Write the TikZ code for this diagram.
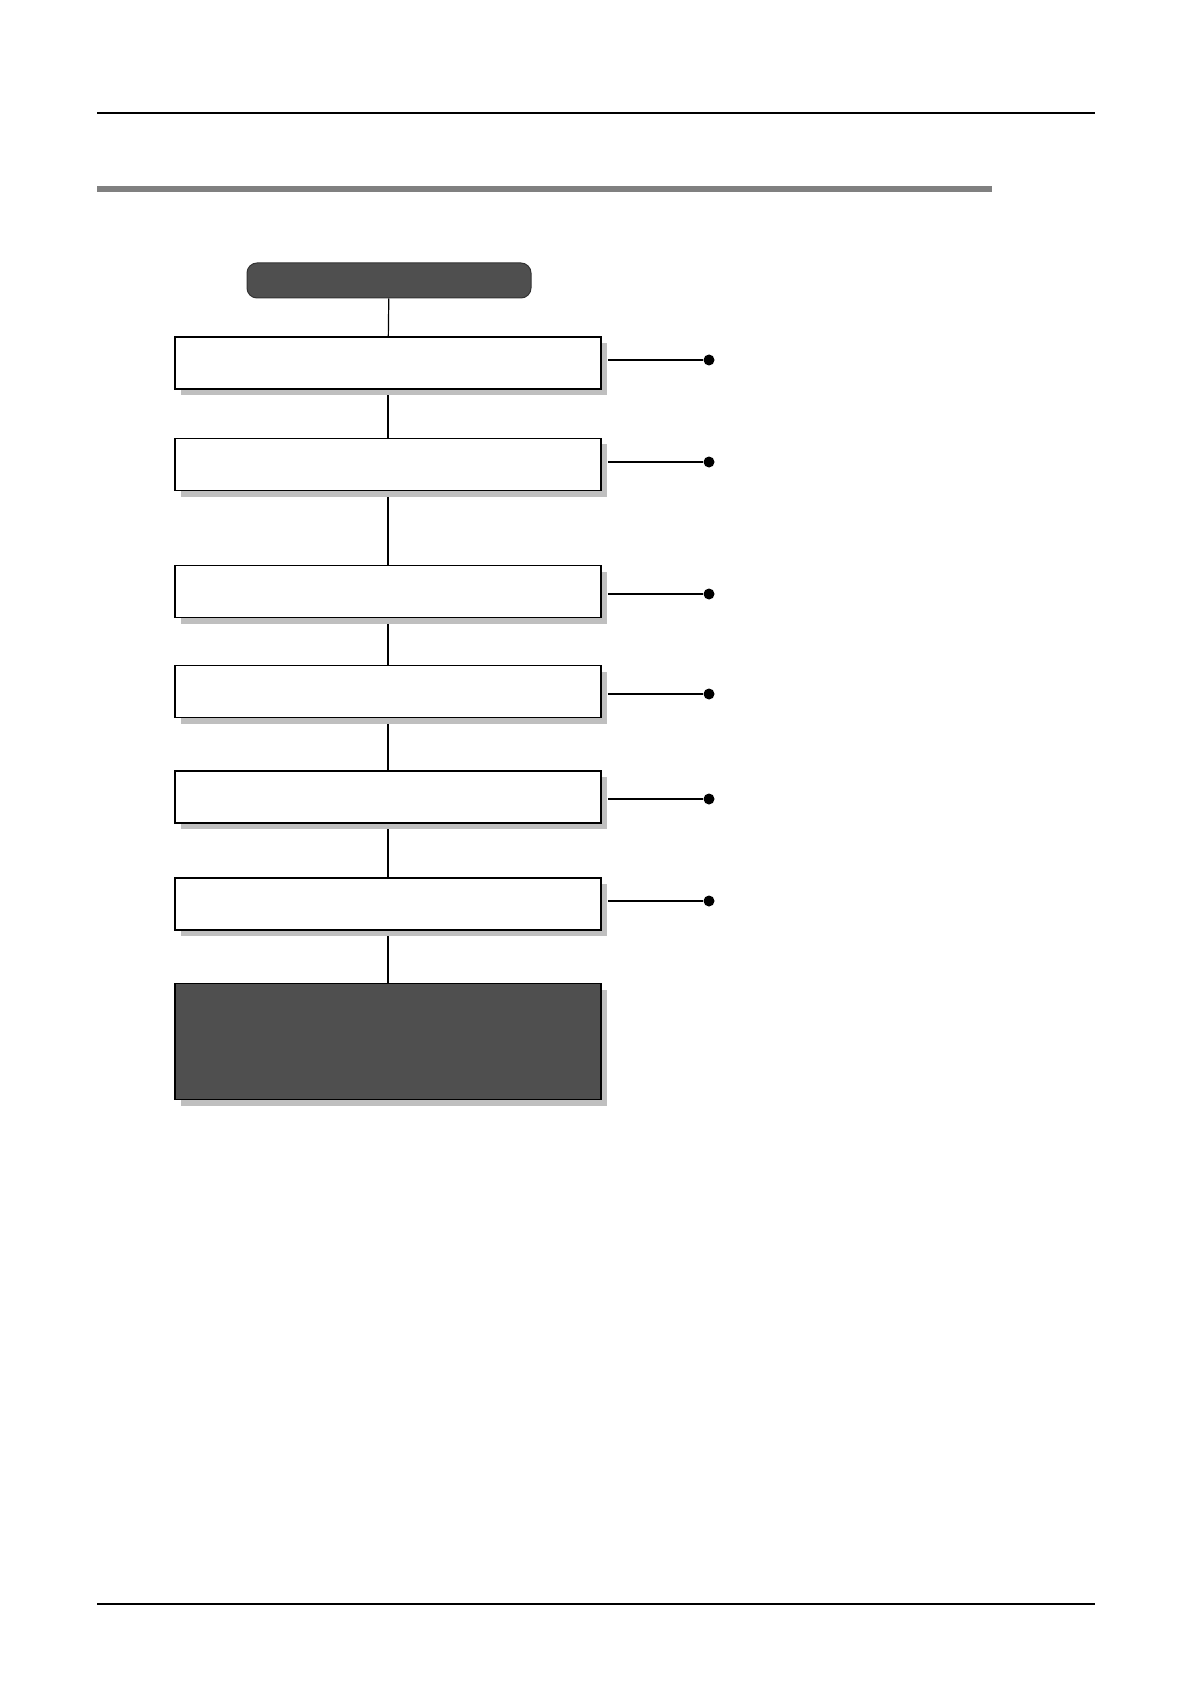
\documentclass[tikz,border=0pt]{standalone}
\usetikzlibrary{positioning}
\usetikzlibrary{shadows}
\usetikzlibrary{backgrounds}
\tikzset{circ/.style = {fill, circle, inner sep = 0, minimum size = 5.5pt}}
\tikzset{stepbox/.style = {draw, line width = 0.9pt, fill = white, inner sep = 0,
    minimum width = 213pt, minimum height = 26pt,
    drop shadow = {shadow xshift = 3pt, shadow yshift = -3pt, fill = black!25, opacity = 1}}}
\tikzset{endbox/.style = {stepbox, fill = black!69, minimum height = 58pt}}
\tikzset{startbox/.style = {draw = black!80, line width = 0.5pt, fill = black!69, inner sep = 0,
    rounded corners = 5pt, minimum width = 142pt, minimum height = 17.5pt}}

\begin{document}
\begin{tikzpicture}[x=0.5pt, y=-0.5pt]
    \useasboundingbox (0, 0) rectangle (1190, 1684);
    \draw[line width = 1pt] (97, 113) -- (1095, 113);
    \fill[black!50] (97, 186) rectangle (992, 192);
    \draw[line width = 1pt] (97, 1604) -- (1095, 1604);
    \node[startbox] (start) at (389, 280.5) {};
    \foreach \i/\y/\t in {1/363/360, 2/464.5/462, 3/591.5/594, 4/691.5/694, 5/797/799, 6/904/901}{
      \node[stepbox] (b\i) at (388, \y) {};
      \node[circ] (d\i) at (709, \t) {};
      \draw[line width = 0.6pt] ([xshift = 3pt]b\i.east |- d\i) -- (d\i);
    }
    \node[endbox] (b7) at (388, 1041.5) {};
    \begin{scope}[on background layer]
      \draw[line width = 0.6pt] (start) -- (b1);
      \foreach \i [evaluate = \i as \j using int(\i + 1)] in {1,...,6}{
        \draw[line width = 0.6pt] (b\i) -- (b\j);
      }
    \end{scope}
  \end{tikzpicture}
\end{document}
